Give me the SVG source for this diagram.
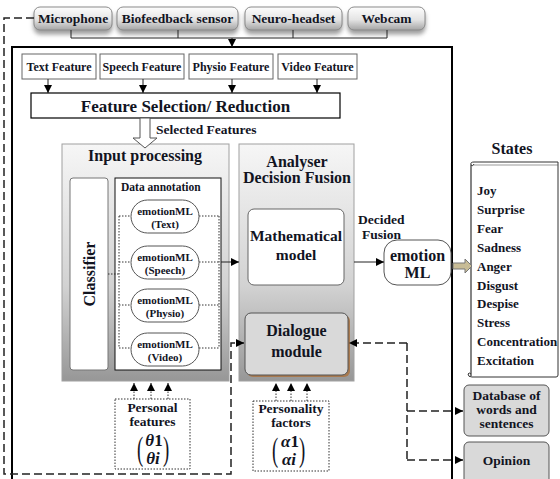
<svg xmlns="http://www.w3.org/2000/svg" width="560" height="479" viewBox="0 0 560 479">
<defs>
<style>
text{font-family:"Liberation Serif","Times New Roman",serif;font-weight:bold;fill:#12141f;}
.c{text-anchor:middle;}
.btn{fill:url(#btnGrad);stroke:#8a8a8a;stroke-width:1;filter:url(#sh);}
.feat{fill:#fff;stroke:#666;stroke-width:1;}
.panel{fill:url(#panelGrad);stroke:#a0a0a0;stroke-width:1;}
.pill{fill:#fff;stroke:#555;stroke-width:1;}
.gbox{fill:#d9d9d9;stroke:#555;stroke-width:1;}
.dot{fill:none;stroke:#333;stroke-width:1;stroke-dasharray:1.5 1.5;}
.dash{fill:none;stroke:#222;stroke-width:1.5;stroke-dasharray:8 4;}
.ln{fill:none;stroke:#222;stroke-width:1;}
.math{font-size:17px;font-style:italic;}
.par{font-size:34px;font-weight:normal;}
</style>
<linearGradient id="btnGrad" x1="0" y1="0" x2="0" y2="1">
<stop offset="0" stop-color="#fdfdfd"/><stop offset="0.55" stop-color="#e4e4e4"/><stop offset="1" stop-color="#a5a5a5"/>
</linearGradient>
<linearGradient id="panelGrad" x1="0" y1="0" x2="0" y2="1">
<stop offset="0" stop-color="#f6f6f6"/><stop offset="0.6" stop-color="#d2d2d2"/><stop offset="1" stop-color="#979797"/>
</linearGradient>
<filter id="sh" x="-10%" y="-20%" width="120%" height="160%">
<feDropShadow dx="0" dy="4" stdDeviation="2" flood-color="#777" flood-opacity="0.7"/>
</filter>
<marker id="ah" viewBox="0 0 10 10" refX="10" refY="5" markerWidth="8" markerHeight="8" markerUnits="userSpaceOnUse" orient="auto">
<path d="M0,0 L10,5 L0,10 z" fill="#000"/>
</marker>
</defs>
<rect width="560" height="479" fill="#fff"/>

<!-- main frame -->
<rect id="frame" x="12" y="47" width="440" height="440" fill="none" stroke="#000" stroke-width="2"/>

<!-- devices -->
<g id="microphone"><rect class="btn" x="34" y="7" width="78" height="23" rx="6"/><text class="c" x="73" y="23" font-size="13.5">Microphone</text></g>
<g id="biofeedback"><rect class="btn" x="117" y="7" width="121" height="23" rx="6"/><text class="c" x="177.5" y="23" font-size="13.5">Biofeedback sensor</text></g>
<g id="neuroheadset"><rect class="btn" x="245" y="7" width="97" height="23" rx="6"/><text class="c" x="293.5" y="23" font-size="13.5">Neuro-headset</text></g>
<g id="webcam"><rect class="btn" x="348" y="7" width="77" height="23" rx="6"/><text class="c" x="386.5" y="23" font-size="13.5">Webcam</text></g>

<!-- features -->
<g id="textFeature"><rect class="feat" x="22" y="54" width="74" height="25"/><text class="c" x="59" y="71" font-size="12">Text Feature</text></g>
<g id="speechFeature"><rect class="feat" x="100" y="54" width="84" height="25"/><text class="c" x="142" y="71" font-size="12">Speech Feature</text></g>
<g id="physioFeature"><rect class="feat" x="189" y="54" width="84" height="25"/><text class="c" x="231" y="71" font-size="12">Physio Feature</text></g>
<g id="videoFeature"><rect class="feat" x="278" y="54" width="79" height="25"/><text class="c" x="317.5" y="71" font-size="12">Video Feature</text></g>

<g id="featureSelection"><rect x="31" y="93" width="309" height="25" fill="#fff" stroke="#000" stroke-width="1.2"/><text class="c" x="185.5" y="112" font-size="17">Feature Selection/ Reduction</text></g>

<!-- input processing -->
<g id="inputProcessing">
<rect class="panel" x="62" y="144" width="167" height="237"/>
<text class="c" x="145" y="161" font-size="16">Input processing</text>
</g>
<g id="classifier"><rect x="70" y="178" width="38" height="192" rx="3" fill="#fff" stroke="#777"/>
<text class="c" transform="translate(95,274) rotate(-90)" font-size="16">Classifier</text></g>
<g id="dataAnnotation"><rect x="115" y="178" width="106" height="192" fill="#fff" stroke="#111"/>
<text x="121" y="191" font-size="11.5">Data annotation</text></g>

<g id="annotLines">
<path class="dot" d="M108,274 H119 M119,216 V348 M219,216 V348 M119,216 H131 M199,216 H219 M119,262 H131 M199,262 H219 M119,305 H131 M199,305 H219 M119,348 H131 M199,348 H219"/>
</g>
<g id="emlText"><rect class="pill" x="131" y="200" width="68" height="33" rx="16.5"/><text class="c" x="165" y="215" font-size="11">emotionML</text><text class="c" x="165" y="228" font-size="11">(Text)</text></g>
<g id="emlSpeech"><rect class="pill" x="131" y="246" width="68" height="33" rx="16.5"/><text class="c" x="165" y="261" font-size="11">emotionML</text><text class="c" x="165" y="274" font-size="11">(Speech)</text></g>
<g id="emlPhysio"><rect class="pill" x="131" y="289" width="68" height="33" rx="16.5"/><text class="c" x="165" y="304" font-size="11">emotionML</text><text class="c" x="165" y="317" font-size="11">(Physio)</text></g>
<g id="emlVideo"><rect class="pill" x="131" y="333" width="68" height="33" rx="16.5"/><text class="c" x="165" y="348" font-size="11">emotionML</text><text class="c" x="165" y="361" font-size="11">(Video)</text></g>

<!-- analyser -->
<g id="analyser">
<rect class="panel" x="239" y="144" width="115" height="237"/>
<text class="c" x="297" y="167" font-size="16">Analyser</text>
<text class="c" x="297" y="183" font-size="16">Decision Fusion</text>
</g>
<g id="mathModel"><rect x="248" y="209" width="96" height="76" rx="6" fill="#fff" stroke="#666"/>
<text class="c" x="296" y="241" font-size="15.5">Mathematical</text><text class="c" x="296" y="260" font-size="15.5">model</text></g>
<g id="dialogue"><rect x="247" y="315" width="103" height="62" rx="6" fill="#a87a50"/>
<rect class="gbox" x="245" y="313" width="103" height="62" rx="6"/>
<text class="c" x="296.5" y="336" font-size="16">Dialogue</text><text class="c" x="296.5" y="357" font-size="16">module</text></g>

<g id="emotionML"><rect x="384" y="240" width="67" height="45" rx="13" fill="#fff" stroke="#555"/>
<text class="c" x="417.5" y="261" font-size="16">emotion</text><text class="c" x="417.5" y="278" font-size="16">ML</text></g>

<!-- states -->
<g id="states">
<text class="c" x="512" y="154" font-size="16">States</text>
<path d="M474,162 H558 V375 Q558,377 556,377 H472" fill="#fff" stroke="#333" stroke-width="1"/>
<path d="M471,165 V376" fill="none" stroke="#333" stroke-width="1.2"/>
<path d="M474,162 Q470,162 471,165 Q473,167 474,164" fill="none" stroke="#333" stroke-width="1"/>
<path d="M472,377 Q468,377 468,374 Q469,372 471,374" fill="none" stroke="#333" stroke-width="1"/>
<path d="M474,165 H558" fill="none" stroke="#555" stroke-width="0.6"/>
<g font-size="13">
<text x="477" y="195">Joy</text>
<text x="477" y="214">Surprise</text>
<text x="477" y="233">Fear</text>
<text x="477" y="252">Sadness</text>
<text x="477" y="271">Anger</text>
<text x="477" y="290">Disgust</text>
<text x="477" y="308">Despise</text>
<text x="477" y="327">Stress</text>
<text x="477" y="346">Concentration</text>
<text x="477" y="365">Excitation</text>
</g>
</g>

<g id="database"><rect class="gbox" x="464" y="385" width="85" height="51" rx="5"/>
<text class="c" x="506.5" y="400" font-size="13.5">Database of</text><text class="c" x="506.5" y="414" font-size="13.5">words and</text><text class="c" x="506.5" y="428" font-size="13.5">sentences</text></g>
<g id="opinion"><rect class="gbox" x="464" y="442" width="85" height="45" rx="5"/>
<text class="c" x="506.5" y="465" font-size="13.5">Opinion</text></g>

<g id="personalFeatures"><rect class="dot" x="115" y="399" width="75" height="70" fill="#fff"/>
<text class="c" x="152.5" y="411.5" font-size="13.5">Personal</text><text class="c" x="152.5" y="426" font-size="13.5">features</text>
<text class="par" transform="translate(137,459.5) scale(0.55,1)">(</text>
<text class="par" transform="translate(163,459.5) scale(0.55,1)">)</text>
<text class="c math" x="154" y="446">θ<tspan font-style="normal">1</tspan></text>
<text class="c math" x="153" y="464">θi</text></g>

<g id="personalityFactors"><rect class="dot" x="253" y="401" width="76" height="70" fill="#fff"/>
<text class="c" x="291" y="413" font-size="13.5">Personality</text><text class="c" x="291" y="427" font-size="13.5">factors</text>
<text class="par" transform="translate(272,460.5) scale(0.55,1)">(</text>
<text class="par" transform="translate(299,460.5) scale(0.55,1)">)</text>
<text class="c math" x="290" y="447">α<tspan font-style="normal">1</tspan></text>
<text class="c math" x="289" y="465">αi</text></g>

<!-- connectors -->
<g id="connectors">
<path class="ln" d="M71,30 V38 H387 V30 M178,30 V38 M293,30 V38"/>
<path class="ln" d="M232,38 V47" marker-end="url(#ah)"/>
<path class="ln" stroke="#555" d="M48,79 V93" marker-end="url(#ah)"/>
<path class="ln" stroke="#555" d="M143,79 V93" marker-end="url(#ah)"/>
<path class="ln" stroke="#555" d="M232,79 V93" marker-end="url(#ah)"/>
<path class="ln" stroke="#555" d="M317,79 V93" marker-end="url(#ah)"/>
<polygon points="140,118 150,118 150,138 157,138 145,148 133,138 140,138" fill="#fff" stroke="#555" stroke-width="1"/>
<text x="156" y="134" font-size="13.5">Selected Features</text>
<path class="ln" d="M221,262 H239" marker-end="url(#ah)"/>
<path class="ln" d="M354,262 H384" marker-end="url(#ah)"/>
<text x="358" y="224" font-size="13.5">Decided</text>
<text x="362" y="239" font-size="13.5">Fusion</text>
<polygon points="453,263 465,263 465,259 472,266 465,273 465,269 453,269" fill="#c8bc96" stroke="#777" stroke-width="1"/>
<path class="dot" d="M134,399 V383" marker-end="url(#ah)"/>
<path class="dot" d="M151,399 V383" marker-end="url(#ah)"/>
<path class="dot" d="M168,399 V383" marker-end="url(#ah)"/>
<path class="dot" d="M276,401 V383" marker-end="url(#ah)"/>
<path class="dot" d="M291,401 V383" marker-end="url(#ah)"/>
<path class="dot" d="M307,401 V383" marker-end="url(#ah)"/>
<path class="dash" d="M34,18 H4 V474 H231 V343 H244" marker-end="url(#ah)"/>
<path class="dash" d="M407,343 H349" marker-end="url(#ah)"/>
<path class="dash" d="M407,343 V460"/>
<path class="dash" d="M407,411 H463" marker-end="url(#ah)"/>
<path class="dash" d="M407,460 H463" marker-end="url(#ah)"/>
</g>
</svg>
